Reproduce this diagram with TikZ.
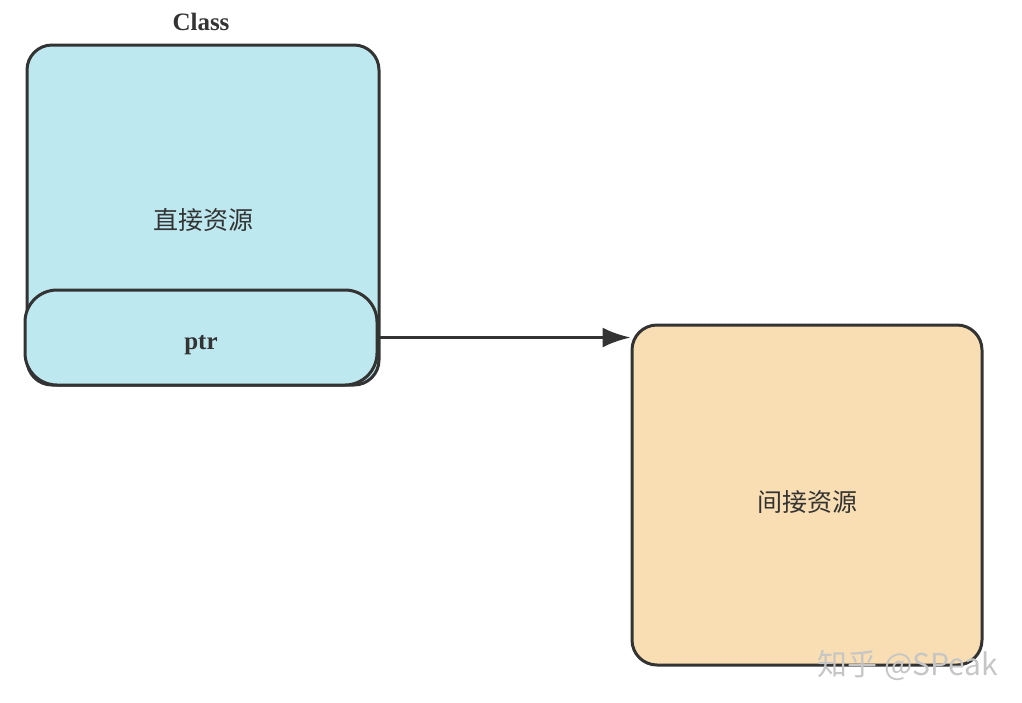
\documentclass[tikz,border=0pt]{standalone}
\usepackage{fontspec}
\setmainfont{Liberation Serif}
\newfontfamily\cjk{Noto Sans CJK SC}
\usetikzlibrary{arrows.meta}
\definecolor{boxblue}{RGB}{189,232,239}
\definecolor{boxorange}{RGB}{248,222,178}
\definecolor{edge}{RGB}{51,51,51}
\newcommand{\lowered}[2]{\raisebox{-#1}[0pt][0pt]{#2}}
\tikzset{
    res/.style={draw=edge,line width=3pt,rounded corners=25pt,font=\cjk\fontsize{25}{30}\selectfont,text=edge},
    lbl/.style={font=\bfseries\fontsize{25}{30}\selectfont,text=edge}
}
\begin{document}
\begin{tikzpicture}[x=1pt,y=-1pt,>={Latex[length=28pt,width=20pt]}]
        \useasboundingbox (0,0) rectangle (1022,702);
        \node[lbl] (cls) at (201,22){Class};
        \node[res,fill=boxblue,minimum width=352pt,minimum height=340pt] (dir) at (203,215){\lowered{14pt}{直接资源}};
        \node[res,fill=boxblue,rounded corners=32pt,minimum width=352pt,minimum height=95pt,lbl] (ptr) at (201,337.5){\lowered{12pt}{ptr}};
        \node[res,fill=boxorange,minimum width=350pt,minimum height=340pt] (ind) at (807,495){\lowered{16pt}{间接资源}};
        \coordinate (tip) at (ind.west |- ptr.east);
        \draw[edge,line width=3pt,->] (ptr.east)--(tip);
        \node[font=\cjk\fontsize{30}{34}\selectfont,text=gray!45] (mark) at (908,665){知乎 @SPeak};
    \end{tikzpicture}
\end{document}
